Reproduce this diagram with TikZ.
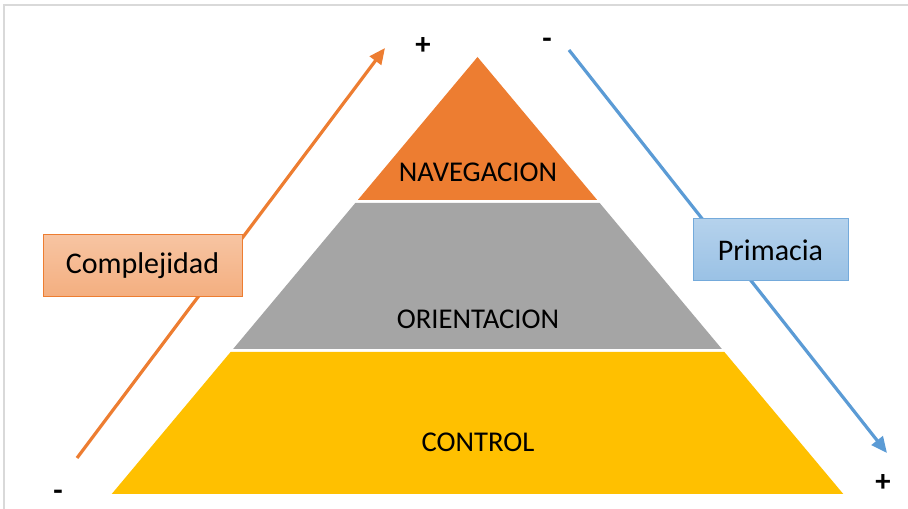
\documentclass[tikz,border=0pt]{standalone}
\usepackage{fontspec}
\setmainfont{Carlito}
\usetikzlibrary{arrows.meta}
\definecolor{navOrange}{HTML}{ED7D31}
\definecolor{oriGrey}{HTML}{A5A5A5}
\definecolor{ctrlGold}{HTML}{FFC000}
\definecolor{primBlue}{HTML}{5B9BD5}
\definecolor{frameGrey}{HTML}{D9D9D9}
\tikzset{every picture/.style={line width=0.75pt}}

\begin{document}
\begin{tikzpicture}[x=0.75pt,y=0.75pt,yscale=-1,xscale=1,
    lvlLabel/.style={font=\fontsize{21.5}{26}\selectfont,inner sep=0pt},
    axisArrow/.style={line width=2.4pt,-{Triangle[length=12pt,width=10.5pt]}},
    axisBox/.style={font=\fontsize{22.5}{27}\selectfont,minimum height=46.5pt,line width=0.75pt,inner sep=0pt},
    signLbl/.style={font=\bfseries\fontsize{23}{26}\selectfont,inner sep=0pt}]
        \useasboundingbox (0,0) rectangle (908,509);
        \draw [frameGrey,line width=1.1pt] (4,509) -- (4,5) -- (908,5) ;
        \fill [navOrange] (477.5,57) -- (597.2,200) -- (357.8,200) -- cycle ;
        \fill [oriGrey] (355.3,203) -- (599.7,203) -- (721.9,349) -- (233.1,349) -- cycle ;
        \fill [ctrlGold] (230.6,352) -- (724.4,352) -- (843.3,494) -- (111.7,494) -- cycle ;
        \node (navLbl) [lvlLabel] at (478,172) {NAVEGACION};
        \node (oriLbl) [lvlLabel] at (478,319) {ORIENTACION};
        \node (ctrlLbl) [lvlLabel] at (478,442) {CONTROL};
        \coordinate (cplxStart) at (77,458);
        \coordinate (cplxEnd) at (385,48);
        \coordinate (primStart) at (569,50);
        \coordinate (primEnd) at (887,453);
        \draw [axisArrow,navOrange] (cplxStart) -- (cplxEnd) ;
        \draw [axisArrow,primBlue] (primStart) -- (primEnd) ;
        \node (cplxBox) [axisBox,draw=navOrange,top color=navOrange!45!white,bottom color=navOrange!62!white,minimum width=149.25pt] at (142.5,266) {Complejidad};
        \node (primBox) [axisBox,draw=primBlue!85!white,top color=primBlue!45!white,bottom color=primBlue!62!white,minimum width=116.25pt] at (770.5,250) {Primacia};
        \node (cplxPlus) [signLbl] at (423,46) {+};
        \node (primMinus) [signLbl] at (547,43) {-};
        \node (cplxMinus) [signLbl] at (58,495) {-};
        \node (primPlus) [signLbl] at (883,483) {+};
    \end{tikzpicture}
\end{document}
